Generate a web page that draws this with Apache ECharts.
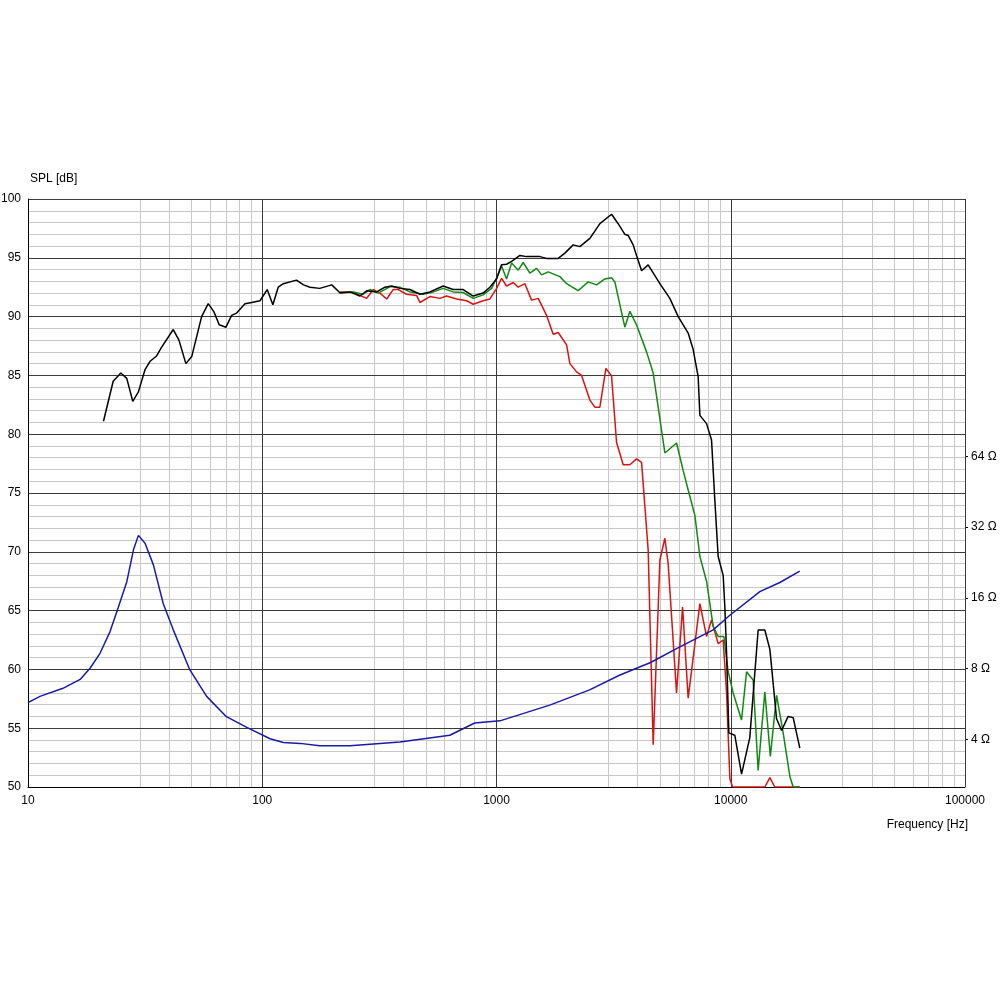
<!DOCTYPE html>
<html>
<head>
<meta charset="utf-8">
<script src="https://cdn.jsdelivr.net/npm/echarts@6/dist/echarts.min.js"></script>
<style>
html,body{margin:0;padding:0;background:#fff;}
#chart{width:1000px;height:1000px;}
</style>
</head>
<body>
<div id="chart"></div>
<script>
// ---- Data ----
const xTicks = [10, 100, 1000, 10000, 100000];
const xMinorTicks = [30,40,50,60,70,80,90, 300,400,500,600,700,800,900, 3000,4000,5000,6000,7000,8000,9000, 30000,40000,50000,60000,70000,80000,90000];
const impedanceTicks = [4, 8, 16, 32, 64];

// On-axis SPL (black)
const blackFreq = [21,23.1,24.9,26.4,28.0,29.6,31.6,33.2,35.4,37.2,41.7,44.1,47.2,50.0,55.1,58.8,62.2,65.5,70.0,74.0,77.7,84.4,90.1,97.8,105,111,117,123,140,150,160,176,198,215,237,261,279,308,334,357,387,427,471,520,592,653,721,795,877,937,1001,1051,1104,1160,1259,1344,1532,1636,1834,1958,2125,2269,2504,2763,3099,3306,3532,3648,3832,3961,4162,4441,4983,5495,5965,6580,6911,7258,7382,7883,8279,8551,8836,9281,9437,9597,9815,10410,11120,12060,13090,13980,14690,15690,16480,17580,18470,19720];
const blackDb = [81.1,84.5,85.2,84.75,82.8,83.6,85.5,86.2,86.65,87.4,88.9,88.0,86.0,86.6,90.0,91.1,90.4,89.3,89.1,90.1,90.3,91.1,91.2,91.35,92.3,91.0,92.5,92.8,93.1,92.7,92.5,92.4,92.7,92.0,92.1,91.75,92.2,92.1,92.5,92.6,92.4,92.3,91.9,92.1,92.6,92.3,92.3,91.75,92.0,92.5,93.2,94.4,94.45,94.7,95.2,95.1,95.1,94.95,94.95,95.4,96.1,95.95,96.65,97.9,98.7,97.9,97.0,96.9,96.1,95.2,93.9,94.4,92.8,91.55,90.0,88.6,87.2,84.9,81.6,80.9,79.5,74.4,69.6,68.0,65.3,61.4,54.6,54.4,51.1,54.2,63.35,63.35,61.7,55.8,54.8,56.0,55.9,53.3];

// Off-axis SPL (green)
const greenFreq = [215,245,270,288,313,351,387,427,487,537,592,653,721,795,877,953,1001,1051,1104,1160,1238,1300,1388,1483,1558,1662,1865,1992,2232,2463,2675,2902,3099,3202,3363,3532,3710,3961,4371,4666,4900,5233,5870,6265,6691,7030,7382,7883,8414,8836,9346,9748,10240,11120,11680,12460,13090,13980,14760,15690,16740,17880,18470,19720];
const greenDb = [92.05,92.1,91.9,92.3,92.0,92.55,92.5,92.1,91.9,92.1,92.4,92.1,92.05,91.55,91.85,92.4,93.3,94.3,93.2,94.55,93.95,94.6,93.7,94.1,93.55,93.8,93.4,92.8,92.2,92.95,92.7,93.2,93.3,92.95,91.0,89.1,90.45,89.3,87.0,85.2,82.3,78.4,79.25,76.9,74.7,73.1,69.6,67.5,63.65,62.8,62.8,59.8,58.0,55.7,59.8,59.1,51.4,58.1,52.6,57.8,54.6,50.9,50.0,50.0];

// Off-axis SPL (red)
const redFreq = [215,245,279,298,318,340,362,381,413,456,471,520,573,612,676,746,795,877,937,1001,1051,1104,1179,1238,1322,1412,1507,1636,1746,1834,1992,2057,2198,2308,2504,2630,2763,2931,3099,3255,3476,3710,3961,4162,4441,4666,4983,5233,5405,5869,6228,6580,7382,7883,8279,8836,9281,9597,9913,10180,13980,14690,15420,19720];
const redDb = [92.1,92.05,91.55,92.3,92.0,91.5,92.3,92.3,91.9,91.8,91.2,91.7,91.55,91.75,91.5,91.35,91.05,91.35,91.5,92.4,93.25,92.6,92.9,92.5,92.8,91.4,91.55,90.1,88.5,88.65,87.6,86.0,85.3,85.0,82.9,82.3,82.3,85.6,84.95,79.3,77.4,77.4,77.9,77.6,70.15,53.6,69.3,71.15,69.0,58.0,65.3,57.55,65.6,62.8,64.2,62.2,62.5,58.0,50.7,50.0,50.0,50.8,50.0,50.0];

// Impedance (blue), ohms
const impFreq = [10,11.25,14.1,16.7,18.4,20.3,22.4,24.3,26.4,28.2,29.6,31.6,34.3,37.8,41.7,49.1,57.9,70.3,85.9,108,123,145,176,237,387,632,807,1034,1688,2497,3347,4548,6063,8414,9913,13310,16200,19700];
const impOhm = [5.74,6.1,6.6,7.2,8.03,9.3,11.5,14.6,18.7,25.6,29.5,27.3,22.1,15.1,11.7,7.9,6.1,5.0,4.5,4.03,3.88,3.85,3.76,3.76,3.9,4.17,4.7,4.8,5.6,6.5,7.5,8.5,9.9,11.7,13.5,17.0,18.6,20.8];

const zip = (a, b) => a.map((v, i) => [v, b[i]]);

// ---- Chart ----
const chart = echarts.init(document.getElementById('chart'), null, {renderer: 'canvas'});
const FONT = '"Liberation Sans", Arial, sans-serif';
const MAJOR = '#3a3a3a';
const MINOR = '#c8c8c8';

chart.setOption({
  animation: false,
  backgroundColor: '#ffffff',
  grid: {left: 28, top: 199, width: 937, height: 588, containLabel: false, outerBoundsMode: 'none'},
  xAxis: [
    {
      type: 'log', logBase: 10, min: 10, max: 100000, z: 3,
      axisLine: {show: true, lineStyle: {color: '#000', width: 1}},
      axisTick: {show: false, customValues: xTicks},
      axisLabel: {show: true, customValues: xTicks, color: '#000', fontSize: 12, fontFamily: FONT, margin: 8,
        formatter: v => String(v)},
      splitLine: {show: true, lineStyle: {color: MAJOR, width: 1}},
      minorTick: {show: false},
      minorSplitLine: {show: false}
    },
    {
      type: 'log', logBase: 10, min: 10, max: 100000, z: 1, position: 'bottom',
      axisLine: {show: false},
      axisTick: {show: false, customValues: xMinorTicks},
      axisLabel: {show: false},
      splitLine: {show: true, lineStyle: {color: MINOR, width: 1}}
    }
  ],
  yAxis: [
    {
      type: 'value', min: 50, max: 100, interval: 5, z: 3,
      name: 'SPL [dB]', nameLocation: 'end', nameGap: 14,
      nameTextStyle: {color: '#000', fontSize: 12, fontFamily: FONT, align: 'left', padding: [0, 0, 0, 2]},
      axisLine: {show: true, lineStyle: {color: '#000', width: 1}},
      axisTick: {show: false},
      axisLabel: {color: '#000', fontSize: 12, fontFamily: FONT, margin: 7},
      splitLine: {show: true, lineStyle: {color: MAJOR, width: 1}},
      minorTick: {show: false, splitNumber: 5},
      minorSplitLine: {show: true, lineStyle: {color: MINOR, width: 1}}
    },
    {
      type: 'log', logBase: 2, min: Math.pow(10, 0.4), max: Math.pow(10, 2.9), position: 'right',
      alignTicks: false,
      axisLine: {show: false},
      axisTick: {show: true, inside: false, length: 3, customValues: impedanceTicks, lineStyle: {color: '#000'}},
      axisLabel: {show: true, customValues: impedanceTicks, color: '#000', fontSize: 12, fontFamily: FONT, margin: 6,
        formatter: v => v + ' Ω'},
      splitLine: {show: false}
    }
  ],
  graphic: [
    {type: 'text', right: 32, top: 819, style: {text: 'Frequency [Hz]', fill: '#000', font: '12px ' + FONT}}
  ],
  series: [
    {type: 'line', name: 'red', data: zip(redFreq, redDb), showSymbol: false, symbol: 'none',
      lineStyle: {color: '#dd1111', width: 1.5}, z: 4},
    {type: 'line', name: 'green', data: zip(greenFreq, greenDb), showSymbol: false, symbol: 'none',
      lineStyle: {color: '#118811', width: 1.5}, z: 5},
    {type: 'line', name: 'black', data: zip(blackFreq, blackDb), showSymbol: false, symbol: 'none',
      lineStyle: {color: '#000000', width: 1.5}, z: 6},
    {type: 'line', name: 'impedance', yAxisIndex: 1, data: zip(impFreq, impOhm), showSymbol: false, symbol: 'none',
      lineStyle: {color: '#1a1aa8', width: 1.5}, z: 7}
  ]
});
</script>
</body>
</html>
